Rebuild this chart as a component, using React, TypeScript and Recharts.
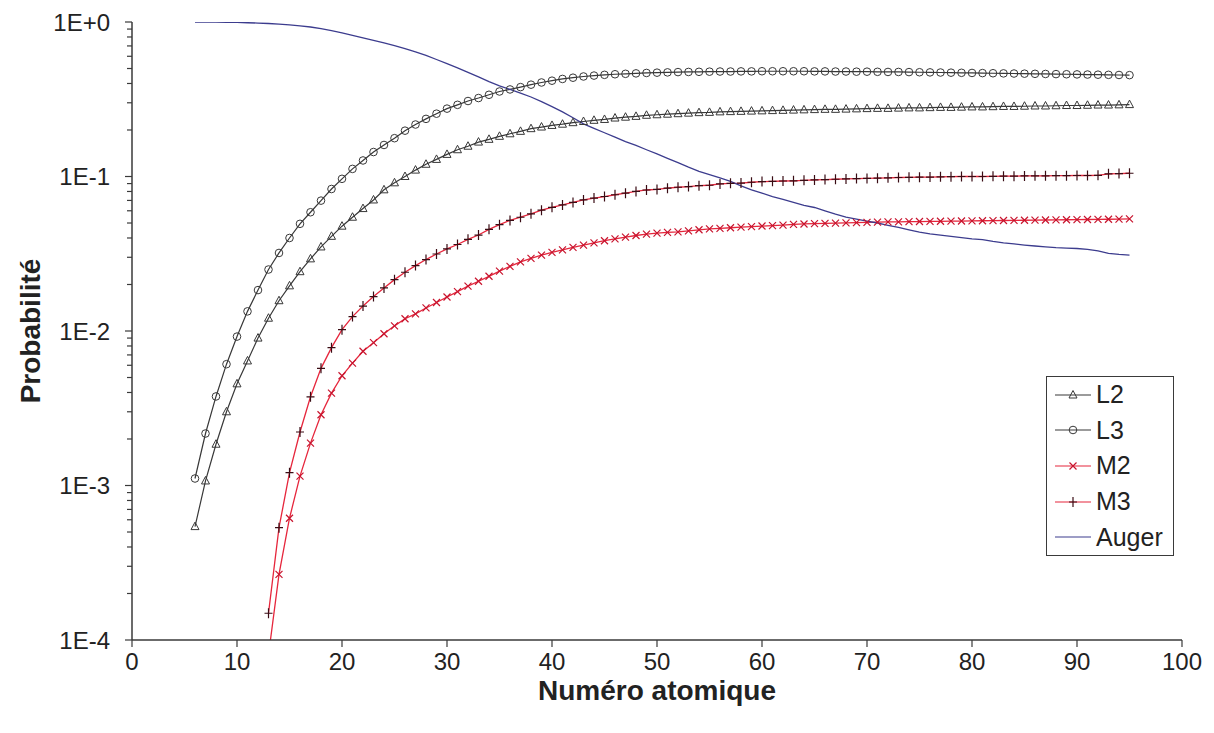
import { LineChart, Line, XAxis, YAxis, Legend, Label } from 'recharts';

// Atomic numbers Z = 6 … 95
const atomicNumbers = [
  6, 7, 8, 9, 10, 11, 12, 13, 14, 15,
  16, 17, 18, 19, 20, 21, 22, 23, 24, 25,
  26, 27, 28, 29, 30, 31, 32, 33, 34, 35,
  36, 37, 38, 39, 40, 41, 42, 43, 44, 45,
  46, 47, 48, 49, 50, 51, 52, 53, 54, 55,
  56, 57, 58, 59, 60, 61, 62, 63, 64, 65,
  66, 67, 68, 69, 70, 71, 72, 73, 74, 75,
  76, 77, 78, 79, 80, 81, 82, 83, 84, 85,
  86, 87, 88, 89, 90, 91, 92, 93, 94, 95,
];

const l2 = [
  0.000542, 0.00107, 0.00185, 0.003, 0.00455, 0.0064, 0.009, 0.0121, 0.0157, 0.0196,
  0.0242, 0.0293, 0.035, 0.041, 0.0477, 0.0545, 0.062, 0.0705, 0.082, 0.091,
  0.1, 0.11, 0.12, 0.129, 0.139, 0.149, 0.157, 0.167, 0.174, 0.182,
  0.189, 0.196, 0.204, 0.209, 0.214, 0.218, 0.223, 0.227, 0.231, 0.234,
  0.239, 0.242, 0.245, 0.249, 0.251, 0.253, 0.255, 0.257, 0.259, 0.26,
  0.262, 0.263, 0.264, 0.265, 0.266, 0.267, 0.268, 0.269, 0.27, 0.271,
  0.272, 0.272, 0.273, 0.274, 0.275, 0.276, 0.276, 0.277, 0.278, 0.278,
  0.279, 0.28, 0.28, 0.281, 0.282, 0.282, 0.283, 0.284, 0.284, 0.285,
  0.286, 0.286, 0.287, 0.288, 0.288, 0.289, 0.29, 0.29, 0.291, 0.292,
];

const l3 = [
  0.00111, 0.00217, 0.00377, 0.0061, 0.0092, 0.0134, 0.0184, 0.025, 0.032, 0.04,
  0.0494, 0.0587, 0.0698, 0.083, 0.0966, 0.112, 0.127, 0.144, 0.16, 0.177,
  0.198, 0.217, 0.236, 0.255, 0.275, 0.291, 0.308, 0.322, 0.338, 0.355,
  0.366, 0.379, 0.393, 0.406, 0.417, 0.428, 0.436, 0.444, 0.45, 0.455,
  0.459, 0.462, 0.465, 0.468, 0.47, 0.472, 0.474, 0.475, 0.476, 0.477,
  0.478, 0.478, 0.479, 0.479, 0.48, 0.48, 0.48, 0.48, 0.48, 0.479,
  0.479, 0.478, 0.478, 0.477, 0.477, 0.476, 0.475, 0.475, 0.474, 0.473,
  0.472, 0.471, 0.47, 0.469, 0.468, 0.467, 0.466, 0.465, 0.464, 0.463,
  0.462, 0.461, 0.46, 0.459, 0.458, 0.457, 0.456, 0.455, 0.454, 0.453,
];

const m2 = [
  null, null, null, null, null, null, null, 0.00008, 0.000266, 0.000614,
  0.00115, 0.00188, 0.00287, 0.00396, 0.00513, 0.0062, 0.0074, 0.0084, 0.0096, 0.0108,
  0.012, 0.0129, 0.0141, 0.0153, 0.0166, 0.018, 0.0195, 0.021, 0.0226, 0.0244,
  0.0262, 0.028, 0.0295, 0.031, 0.0323, 0.0335, 0.0348, 0.036, 0.0372, 0.0384,
  0.0395, 0.0405, 0.0415, 0.0424, 0.043, 0.0435, 0.0438, 0.0445, 0.0452, 0.0458,
  0.0462, 0.0466, 0.047, 0.0474, 0.0478, 0.0481, 0.0485, 0.049, 0.0493, 0.0495,
  0.0497, 0.0499, 0.0501, 0.0503, 0.0505, 0.0507, 0.0508, 0.0509, 0.051, 0.0511,
  0.0512, 0.0513, 0.0514, 0.0515, 0.0516, 0.0517, 0.0518, 0.0519, 0.052, 0.0521,
  0.0522, 0.0523, 0.0524, 0.0525, 0.0526, 0.0527, 0.0528, 0.0529, 0.053, 0.0532,
];

const m3 = [
  null, null, null, null, null, null, null, 0.000149, 0.000533, 0.00121,
  0.00222, 0.00375, 0.00573, 0.0078, 0.0102, 0.0124, 0.0145, 0.0167, 0.019, 0.0215,
  0.024, 0.0265, 0.029, 0.0315, 0.034, 0.0363, 0.0392, 0.0418, 0.0455, 0.0488,
  0.052, 0.0545, 0.0573, 0.0605, 0.0632, 0.0655, 0.068, 0.0705, 0.0725, 0.0742,
  0.0762, 0.078, 0.08, 0.0818, 0.0825, 0.084, 0.0852, 0.086, 0.0872, 0.0878,
  0.0895, 0.0903, 0.0906, 0.0918, 0.0927, 0.093, 0.0935, 0.0938, 0.0945, 0.095,
  0.0955, 0.096, 0.0965, 0.097, 0.0972, 0.0975, 0.098, 0.0985, 0.0988, 0.099,
  0.0992, 0.0995, 0.0998, 0.1, 0.1, 0.1, 0.1003, 0.1005, 0.1005, 0.1008,
  0.101, 0.101, 0.1012, 0.1013, 0.1015, 0.1015, 0.1018, 0.104, 0.1045, 0.105,
];

const auger = [
  1.0, 0.999, 0.998, 0.996, 0.993, 0.989, 0.984, 0.978, 0.97, 0.959,
  0.945, 0.928, 0.905, 0.878, 0.85, 0.82, 0.79, 0.76, 0.733, 0.703,
  0.672, 0.64, 0.608, 0.572, 0.537, 0.505, 0.472, 0.441, 0.411, 0.386,
  0.366, 0.347, 0.327, 0.305, 0.283, 0.262, 0.24, 0.219, 0.205, 0.192,
  0.18, 0.168, 0.159, 0.149, 0.14, 0.131, 0.123, 0.115, 0.108, 0.103,
  0.098, 0.093, 0.087, 0.082, 0.078, 0.074, 0.071, 0.068, 0.065, 0.063,
  0.06, 0.057, 0.0545, 0.053, 0.0515, 0.05, 0.0483, 0.0468, 0.0452, 0.0437,
  0.0425, 0.0418, 0.041, 0.0402, 0.0395, 0.039, 0.038, 0.0372, 0.0366, 0.036,
  0.0355, 0.035, 0.0346, 0.0344, 0.0342, 0.0338, 0.033, 0.0318, 0.0313, 0.031,
];

const xTicks = [0, 10, 20, 30, 40, 50, 60, 70, 80, 90, 100];

// decades plus the 2..9 minor ticks of each decade
const yTicks = [
  0.0001, 0.0002, 0.0003, 0.0004, 0.0005, 0.0006, 0.0007, 0.0008, 0.0009,
  0.001, 0.002, 0.003, 0.004, 0.005, 0.006, 0.007, 0.008, 0.009,
  0.01, 0.02, 0.03, 0.04, 0.05, 0.06, 0.07, 0.08, 0.09,
  0.1, 0.2, 0.3, 0.4, 0.5, 0.6, 0.7, 0.8, 0.9,
  1,
];

const chartData = atomicNumbers.map((z, i) => ({
  z,
  L2: l2[i],
  L3: l3[i],
  M2: m2[i],
  M3: m3[i],
  Auger: auger[i],
}));

const WIDTH = 1198;
const HEIGHT = 710;
const MARGIN = { top: 14, right: 24, bottom: 18, left: 34 };
const Y_AXIS_WIDTH = 90;
const X_AXIS_HEIGHT = 60;
const AXIS_X = MARGIN.left + Y_AXIS_WIDTH;
const PLOT_BOTTOM = HEIGHT - MARGIN.bottom - X_AXIS_HEIGHT;
const PLOT_MID_X = (AXIS_X + WIDTH - MARGIN.right) / 2;
const PLOT_MID_Y = (MARGIN.top + PLOT_BOTTOM) / 2;

const FONT = '"Liberation Sans", Arial, Helvetica, sans-serif';
const AXIS_COLOR = '#3a3a3a';
const BLACK_LINE = '#383838';
const RED_LINE = '#e6263c';
const CROSS_RED = '#c8142e';
const PLUS_DARK = '#3a0c14';
const AUGER_BLUE = '#3c3c8e';

type Shape = 'triangle' | 'circle' | 'cross' | 'plus' | 'none';

function Marker({ shape, cx, cy, color }: { shape: Shape; cx: number; cy: number; color: string }) {
  if (shape === 'triangle') {
    return (
      <path
        d={`M${cx},${cy - 4.5} L${cx + 4},${cy + 3} L${cx - 4},${cy + 3} Z`}
        fill="none"
        stroke={color}
        strokeWidth={1}
      />
    );
  }
  if (shape === 'circle') {
    return <circle cx={cx} cy={cy} r={3.8} fill="none" stroke={color} strokeWidth={1} />;
  }
  if (shape === 'cross') {
    return (
      <path
        d={`M${cx - 3.5},${cy - 3.5} L${cx + 3.5},${cy + 3.5} M${cx - 3.5},${cy + 3.5} L${cx + 3.5},${cy - 3.5}`}
        stroke={color}
        strokeWidth={1.2}
      />
    );
  }
  if (shape === 'plus') {
    return (
      <path
        d={`M${cx - 4},${cy} L${cx + 4},${cy} M${cx},${cy - 5} L${cx},${cy + 5}`}
        stroke={color}
        strokeWidth={1.2}
      />
    );
  }
  return null;
}

const renderDot = (shape: Shape, color: string) => (props: any) => {
  const { cx, cy, index } = props;
  if (cx == null || cy == null || !Number.isFinite(cy)) return <g key={`${shape}-${index}`} />;
  return (
    <g key={`${shape}-${index}`}>
      <Marker shape={shape} cx={cx} cy={cy} color={color} />
    </g>
  );
};

const legendItems: { name: string; line: string; shape: Shape; mark: string }[] = [
  { name: 'L2', line: BLACK_LINE, shape: 'triangle', mark: BLACK_LINE },
  { name: 'L3', line: BLACK_LINE, shape: 'circle', mark: BLACK_LINE },
  { name: 'M2', line: RED_LINE, shape: 'cross', mark: CROSS_RED },
  { name: 'M3', line: RED_LINE, shape: 'plus', mark: PLUS_DARK },
  { name: 'Auger', line: AUGER_BLUE, shape: 'none', mark: AUGER_BLUE },
];

function LegendBox() {
  return (
    <div
      style={{
        border: `1px solid ${AXIS_COLOR}`,
        background: '#fff',
        width: 126,
        height: 178,
        fontFamily: FONT,
        fontSize: 25,
        color: '#222',
      }}
    >
      {legendItems.map((item) => (
        <div key={item.name} style={{ display: 'flex', alignItems: 'center', height: 35.6 }}>
          <svg width={46} height={20} style={{ marginLeft: 3 }}>
            <line x1={5} x2={41} y1={10} y2={10} stroke={item.line} strokeWidth={1.2} />
            <Marker shape={item.shape} cx={23} cy={10} color={item.mark} />
          </svg>
          <span style={{ marginLeft: 0, lineHeight: 1 }}>{item.name}</span>
        </div>
      ))}
    </div>
  );
}

function YTick(props: any) {
  const { y, payload } = props;
  const value = payload.value as number;
  const exp = Math.log10(value);
  const major = Math.abs(exp - Math.round(exp)) < 1e-6;
  const e = Math.round(exp);
  const text = `1E${e >= 0 ? '+' : '-'}${Math.abs(e)}`;
  return (
    <g>
      <line x1={AXIS_X - (major ? 7 : 5)} x2={AXIS_X} y1={y} y2={y} stroke={AXIS_COLOR} strokeWidth={1.2} />
      {major && (
        <text x={AXIS_X - 22} y={y} textAnchor="end" dominantBaseline="central" fontSize={24} fill="#222">
          {text}
        </text>
      )}
    </g>
  );
}

function XTick(props: any) {
  const { x, payload } = props;
  return (
    <text x={x} y={PLOT_BOTTOM + 21} textAnchor="middle" dominantBaseline="central" fontSize={24} fill="#222">
      {payload.value}
    </text>
  );
}

export default function App() {
  return (
    <LineChart width={WIDTH} height={HEIGHT} data={chartData} margin={MARGIN} style={{ fontFamily: FONT }}>
      <XAxis
        dataKey="z"
        type="number"
        domain={[0, 100]}
        ticks={xTicks}
        interval={0}
        height={X_AXIS_HEIGHT}
        axisLine={{ stroke: AXIS_COLOR, strokeWidth: 1.5 }}
        tickLine={{ stroke: AXIS_COLOR, strokeWidth: 1.2 }}
        tickSize={7}
        tick={<XTick />}
      >
        <Label
          content={() => (
            <text
              x={PLOT_MID_X}
              y={HEIGHT - 28}
              textAnchor="middle"
              dominantBaseline="central"
              fontSize={28}
              fontWeight="bold"
              fill="#222"
            >
              Numéro atomique
            </text>
          )}
        />
      </XAxis>
      <YAxis
        type="number"
        scale="log"
        domain={[0.0001, 1]}
        allowDataOverflow
        ticks={yTicks}
        interval={0}
        width={Y_AXIS_WIDTH}
        axisLine={{ stroke: AXIS_COLOR, strokeWidth: 1.5 }}
        tickLine={false}
        tick={<YTick />}
      >
        <Label
          content={() => (
            <text
              transform={`translate(${MARGIN.left - 12}, ${PLOT_MID_Y}) rotate(-90)`}
              textAnchor="middle"
              dominantBaseline="central"
              fontSize={28}
              fontWeight="bold"
              fill="#222"
            >
              Probabilité
            </text>
          )}
        />
      </YAxis>
      <Legend
        layout="vertical"
        align="center"
        verticalAlign="middle"
        wrapperStyle={{ position: 'absolute', left: 1038, top: 368, width: 128, height: 180 }}
        content={() => <LegendBox />}
      />
      <Line
        dataKey="L2"
        type="linear"
        stroke={BLACK_LINE}
        strokeWidth={1.2}
        dot={renderDot('triangle', BLACK_LINE)}
        activeDot={false}
        isAnimationActive={false}
      />
      <Line
        dataKey="L3"
        type="linear"
        stroke={BLACK_LINE}
        strokeWidth={1.2}
        dot={renderDot('circle', BLACK_LINE)}
        activeDot={false}
        isAnimationActive={false}
      />
      <Line
        dataKey="M2"
        type="linear"
        stroke={RED_LINE}
        strokeWidth={1.3}
        dot={renderDot('cross', CROSS_RED)}
        activeDot={false}
        isAnimationActive={false}
      />
      <Line
        dataKey="M3"
        type="linear"
        stroke={RED_LINE}
        strokeWidth={1.3}
        dot={renderDot('plus', PLUS_DARK)}
        activeDot={false}
        isAnimationActive={false}
      />
      <Line
        dataKey="Auger"
        type="linear"
        stroke={AUGER_BLUE}
        strokeWidth={1.3}
        dot={false}
        activeDot={false}
        isAnimationActive={false}
      />
    </LineChart>
  );
}
